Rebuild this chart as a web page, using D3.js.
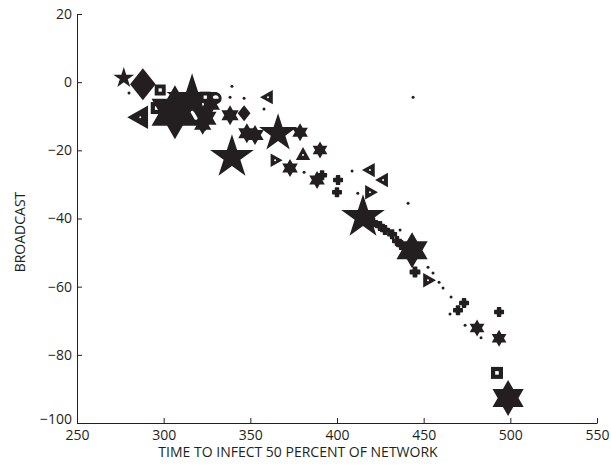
<!DOCTYPE html>
<html lang="en">
<head>
    <meta charset="UTF-8">
    <title>Broadcast vs time to infect</title>
    <script src="https://d3js.org/d3.v7.min.js"></script>
    <style>
        body { margin: 0; background: #fff; }
        text { font-family: "Open Sans", "Liberation Sans", sans-serif; fill: #231f20; }
    </style>
</head>
<body>
    <svg width="611" height="466" id="chart"></svg>

    <script>
        // Data
        const timeToInfect = [277, 288, 298, 296, 286.5, 306.5, 316.4, 327, 324, 330, 324, 280,
            339.4, 338.3, 346.4, 357.9, 360.2, 338.3, 346.4, 339.4, 348, 352.7, 366, 378.7, 372.9,
            364.3, 380.4, 381, 390.2, 388.5, 391.4, 400.6, 400, 408.7, 419, 426.6, 412, 419, 441,
            443.9, 415, 420.8, 424.8, 427.7, 431.8, 434.6, 436.4, 443.3, 445, 452.5, 452.5, 455.4,
            458.9, 461.2, 465.8, 473.3, 469.8, 465.2, 473.9, 483.1, 480.8, 493.5, 493.5, 492.3, 498.7,
            322.5, 418.5, 437];
        const broadcast = [1.2, -0.6, -2.3, -7.6, -10.3, -8.8, -5.3, -6.5, -10.6, -4.7, -4.4, -3.2,
            -1.2, -4.4, -4.7, -7.9, -4.4, -9.7, -9.1, -22, -15, -15.5, -15, -14.7, -25.2,
            -22.9, -21.4, -26.4, -19.9, -28.7, -27.3, -28.7, -32.3, -26.1, -25.8, -28.7, -32.6, -32.3, -35.5,
            -4.4, -39.6, -41.1, -42.2, -43.4, -44.6, -46.6, -43.4, -49.3, -55.7, -58.1, -54.3, -56,
            -58.7, -60.4, -63, -64.8, -66.9, -68, -71.3, -75, -72.1, -67.4, -75.1, -85.3, -92.7,
            -12.5, -40.5, -47.8];
        // marker: p pentagram, h hexagram, d diamond, < > ^ triangles, s square, o circle, . dot, + plus
        const marker = ["p", "d", "s", "s", "<", "h", "p", "h", "h", "o", "s", ".",
            ".", ".", ".", ".", "<", "h", "d", "p", "h", "h", "p", "h", "h",
            ">", "^", ".", "h", "h", "+", "+", "+", ".", "<", "<", ".", ">", ".",
            ".", "p", "+", "+", "+", "+", "+", ".", "h", "+", ">", ".", ".",
            ".", ".", ".", "+", "+", ".", ".", ".", "h", "+", "h", "s", "h",
            "h", "+", "+"];
        const markerSize = [22, 32, 11, 12, 26, 54, 54, 22, 26, 12, 11, 3,
            3, 3, 3, 3, 16, 20, 16, 46, 20, 20, 40, 18, 18,
            15, 16, 3, 17, 18, 10, 10, 10, 3, 16, 16, 3, 16, 3,
            3, 46, 10, 10, 10, 10, 10, 3, 36, 11, 16, 3, 3,
            3, 3, 3, 10, 10, 3, 3, 3, 17, 10, 17, 12, 36,
            20, 10, 10];
        const xTicks = [250, 300, 350, 400, 450, 500, 550];
        const yTicks = [-100, -80, -60, -40, -20, 0, 20];

        const ink = "#231f20";
        const svg = d3.select("#chart");

        const x = d3.scaleLinear().domain([250, 550]).range([77, 597]);
        const y = d3.scaleLinear().domain([-100, 20]).range([423, 14]);
        const size = d3.scaleLinear().domain([0, 60]).range([0, 60]);

        // star-like polygon with n points
        function star(n, R, r, rot) {
            const pts = [];
            for (let i = 0; i < 2 * n; i++) {
                const a = rot + i * Math.PI / n;
                const rad = i % 2 === 0 ? R : r;
                pts.push([rad * Math.cos(a), rad * Math.sin(a)]);
            }
            return d3.line().curve(d3.curveLinearClosed)(pts);
        }
        function poly(pts) {
            return d3.line().curve(d3.curveLinearClosed)(pts);
        }

        function markerPath(type, s) {
            const R = s / 2;
            switch (type) {
                case "p": return star(5, R, R * 0.382, -Math.PI / 2);
                case "h": return star(6, R, R / Math.sqrt(3), -Math.PI / 2);
                case "d": return poly([[0, -R], [R * 0.8, 0], [0, R], [-R * 0.8, 0]]);
                case "<": return poly([[-R, 0], [R * 0.6, -R * 0.9], [R * 0.6, R * 0.9]]);
                case ">": return poly([[R, 0], [-R * 0.6, -R * 0.9], [-R * 0.6, R * 0.9]]);
                case "^": return poly([[0, -R], [R * 0.9, R * 0.6], [-R * 0.9, R * 0.6]]);
                case "+": {
                    const a = R * 0.85, b = R * 0.3;
                    return poly([[-b, -a], [b, -a], [b, -b], [a, -b], [a, b], [b, b], [b, a], [-b, a], [-b, b], [-a, b], [-a, -b], [-b, -b]]);
                }
                default: return d3.symbol(d3.symbolCircle, Math.PI * R * R)();
            }
        }

        // axes
        const xAxis = d3.axisBottom(x).tickValues(xTicks).tickSizeInner(-5).tickSizeOuter(0).tickPadding(7);
        const yAxis = d3.axisLeft(y).tickValues(yTicks).tickSizeInner(-5).tickSizeOuter(0).tickPadding(5)
            .tickFormat(d => d < 0 ? "\u2212" + Math.abs(d) : d);

        const gx = svg.append("g").attr("transform", "translate(0,423)").call(xAxis);
        const gy = svg.append("g").attr("transform", "translate(77,0)").call(yAxis);
        [gx, gy].forEach(g => {
            g.select(".domain").attr("stroke", ink).attr("stroke-width", 1);
            g.selectAll(".tick line").attr("stroke", ink);
            g.selectAll("text").attr("font-size", 14).attr("fill", ink)
                .style("font-family", '"Open Sans", "Liberation Sans", sans-serif');
        });
        // lowest y label sits a bit higher so it does not clash with 250
        gy.selectAll(".tick text").filter(d => d === -100).attr("dy", "0.0em");

        // axis titles
        svg.append("text")
            .attr("x", 298).attr("y", 457)
            .attr("text-anchor", "middle")
            .attr("font-size", 14)
            .text("TIME TO INFECT 50 PERCENT OF NETWORK");
        svg.append("text")
            .attr("transform", "translate(25,232) rotate(-90)")
            .attr("text-anchor", "middle")
            .attr("font-size", 14)
            .text("BROADCAST");

        // markers
        const pts = timeToInfect.map((t, i) => ({ t, b: broadcast[i], m: marker[i], s: markerSize[i] }));
        const g = svg.append("g");
        pts.forEach(p => {
            const cx = x(p.t), cy = y(p.b), s = size(p.s);
            if (p.m === "s") {
                const w = s * 0.35;
                g.append("rect")
                    .attr("x", cx - s / 2 + w / 2).attr("y", cy - s / 2 + w / 2)
                    .attr("width", s - w).attr("height", s - w)
                    .attr("fill", "#fff").attr("stroke", ink).attr("stroke-width", w);
            } else if (p.m === "o") {
                g.append("circle")
                    .attr("cx", cx).attr("cy", cy).attr("r", s / 2 - 1.5)
                    .attr("fill", "none").attr("stroke", ink).attr("stroke-width", 3);
            } else {
                g.append("path")
                    .attr("transform", `translate(${cx},${cy})`)
                    .attr("d", markerPath(p.m, s))
                    .attr("fill", ink)
                    .attr("stroke", p.m === "+" ? ink : "none")
                    .attr("stroke-width", 1.5)
                    .attr("stroke-linejoin", "round");
                if ("<>^".includes(p.m)) {
                    g.append("circle").attr("cx", cx).attr("cy", cy).attr("r", 1).attr("fill", "#fff");
                }
            }
        });
    </script>
</body>
</html>
